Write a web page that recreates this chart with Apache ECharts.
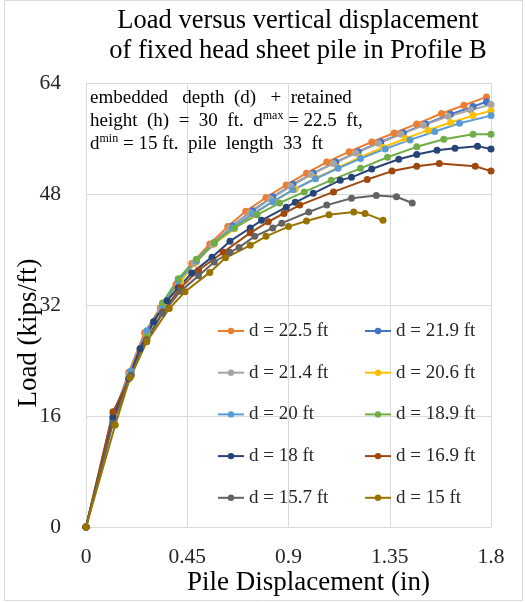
<!DOCTYPE html>
<html>
<head>
<meta charset="utf-8">
<script src="https://cdn.jsdelivr.net/npm/echarts@6/dist/echarts.min.js"></script>
<style>html,body{margin:0;padding:0;background:#fff;}#c{width:525px;height:602px;}</style>
</head>
<body>
<div id="c"></div>
<script>
// ---- data ----
const seriesNames = ['d = 22.5 ft','d = 21.9 ft','d = 21.4 ft','d = 20.6 ft','d = 20 ft','d = 18.9 ft','d = 18 ft','d = 16.9 ft','d = 15.7 ft','d = 15 ft'];

const x225 = [0,0.12,0.19,0.26,0.33,0.40,0.47,0.55,0.63,0.71,0.80,0.89,0.98,1.07,1.17,1.27,1.37,1.47,1.58,1.68,1.78];
const y225 = [0,15.8,22.3,28.0,31.6,35.0,38.0,40.8,43.3,45.5,47.5,49.3,51.0,52.6,54.1,55.5,56.8,58.1,59.6,60.8,62.0];

const x219 = [0,0.12,0.20,0.27,0.34,0.41,0.49,0.57,0.65,0.74,0.83,0.92,1.01,1.11,1.21,1.31,1.41,1.51,1.62,1.72,1.78];
const y219 = [0,15.4,22.4,27.8,31.7,35.3,38.3,41.0,43.4,45.6,47.6,49.4,51.0,52.6,54.1,55.5,56.8,58.1,59.5,60.6,61.3];

const x214 = [0,0.12,0.19,0.27,0.33,0.41,0.48,0.56,0.64,0.73,0.82,0.91,1.00,1.10,1.20,1.30,1.40,1.50,1.61,1.71,1.80];
const y214 = [0,15.6,22.0,27.9,31.4,35.1,38.0,40.7,43.1,45.3,47.3,49.1,50.8,52.4,53.9,55.3,56.6,57.9,59.2,60.1,60.9];

const x206 = [0,0.12,0.20,0.27,0.34,0.42,0.49,0.57,0.66,0.74,0.83,0.93,1.02,1.12,1.22,1.32,1.42,1.52,1.62,1.72,1.80];
const y206 = [0,15.9,22.2,27.6,31.9,35.4,38.2,40.8,43.0,45.0,46.9,48.7,50.3,51.8,53.3,54.7,56.0,57.2,58.3,59.3,60.0];

const x200 = [0,0.12,0.20,0.27,0.34,0.41,0.49,0.57,0.65,0.74,0.83,0.92,1.02,1.12,1.22,1.33,1.44,1.55,1.66,1.80];
const y200 = [0,16.3,22.5,28.3,31.8,35.5,38.3,40.9,43.1,45.1,46.9,48.6,50.2,51.7,53.1,54.5,55.8,57.0,58.2,59.3];

const x189 = [0,0.12,0.20,0.27,0.34,0.41,0.49,0.57,0.66,0.76,0.86,0.97,1.09,1.22,1.34,1.47,1.59,1.72,1.80];
const y189 = [0,15.2,21.9,27.4,32.3,35.8,38.6,41.0,43.1,45.0,46.7,48.3,50.0,51.7,53.3,54.8,55.9,56.6,56.6];

const x180 = [0,0.12,0.19,0.24,0.30,0.36,0.41,0.47,0.56,0.64,0.73,0.78,0.89,0.93,1.01,1.13,1.18,1.27,1.39,1.47,1.56,1.64,1.74,1.80];
const y180 = [0,15.8,21.4,25.7,29.6,32.6,34.5,36.6,38.9,41.2,43.1,44.2,46.1,46.8,48.1,50.0,50.4,51.6,53.0,53.7,54.3,54.6,54.9,54.5];

const x169 = [0,0.12,0.20,0.27,0.34,0.42,0.50,0.61,0.73,0.81,0.88,0.95,1.10,1.25,1.36,1.47,1.57,1.73,1.80];
const y169 = [0,16.6,21.8,27.0,31.0,34.5,37.0,39.6,42.4,44.0,45.2,46.4,48.3,50.1,51.3,52.0,52.4,52.0,51.3];

const x157 = [0,0.12,0.20,0.27,0.34,0.42,0.50,0.57,0.64,0.68,0.75,0.83,0.87,0.99,1.07,1.18,1.29,1.38,1.45];
const y157 = [0,15.0,21.9,26.9,30.8,34.0,36.2,38.2,39.6,40.3,41.9,43.1,43.8,45.4,46.4,47.4,47.8,47.6,46.7];

const x150 = [0,0.13,0.195,0.27,0.37,0.44,0.55,0.62,0.73,0.80,0.90,0.98,1.08,1.19,1.24,1.32];
const y150 = [0,14.7,21.5,26.7,31.5,33.9,36.7,38.8,40.6,41.9,43.3,44.1,45.0,45.4,45.2,44.2];

const xTicks = [0, 0.45, 0.9, 1.35, 1.8];
const yTicks = [0, 16, 32, 48, 64];

// ---- chart ----
const xs = [x225,x219,x214,x206,x200,x189,x180,x169,x157,x150];
const ys = [y225,y219,y214,y206,y200,y189,y180,y169,y157,y150];
const colors = ['#ED7D31','#4472C4','#A5A5A5','#FFC000','#5B9BD5','#70AD47','#264478','#9E480E','#636363','#997300'];
const FONT = '"Liberation Serif", "Times New Roman", serif';

const series = seriesNames.map((n, i) => ({
  name: n,
  type: 'line',
  data: xs[i].map((x, k) => [x, ys[i][k]]),
  symbol: 'circle',
  symbolSize: 7,
  lineStyle: { width: 2, color: colors[i] },
  itemStyle: { color: colors[i] },
  emphasis: { disabled: true },
  animation: false
}));

const legendBase = {
  orient: 'vertical',
  itemWidth: 26,
  itemHeight: 8,
  itemGap: 21.7,
  padding: 0,
  textStyle: { fontFamily: FONT, fontSize: 19, lineHeight: 20, color: '#262626' }
};

const chart = echarts.init(document.getElementById('c'), null, { renderer: 'canvas' });
chart.setOption({
  backgroundColor: '#fff',
  animation: false,
  color: colors,
  title: {
    text: 'Load versus vertical displacement\nof fixed head sheet pile in Profile B',
    left: 298,
    top: 6,
    textAlign: 'center',
    padding: 0,
    textStyle: { fontFamily: FONT, fontSize: 26.5, lineHeight: 30, fontWeight: 'normal', color: '#000' }
  },
  grid: { left: 86, right: 34, top: 83, bottom: 75, containLabel: false, outerBoundsMode: 'none' },
  xAxis: {
    type: 'value',
    min: xTicks[0], max: xTicks[xTicks.length - 1], interval: 0.45,
    name: 'Pile Displacement (in)',
    nameLocation: 'middle',
    nameGap: 42,
    nameMoveOverlap: false,
    nameTextStyle: { fontFamily: FONT, fontSize: 27, color: '#000', padding: [0, 0, 0, 40], verticalAlign: 'top' },
    axisLine: { show: true, lineStyle: { color: '#d9d9d9', width: 1 } },
    axisTick: { show: false },
    axisLabel: { fontFamily: FONT, fontSize: 21.5, color: '#262626', margin: 19 },
    splitLine: { show: true, lineStyle: { color: '#d9d9d9', width: 1 } }
  },
  yAxis: {
    type: 'value',
    min: yTicks[0], max: yTicks[yTicks.length - 1], interval: 16,
    name: 'Load (kips/ft)',
    nameLocation: 'middle',
    nameGap: 44,
    nameMoveOverlap: false,
    nameTextStyle: { fontFamily: FONT, fontSize: 27, color: '#000', padding: [0, 56, 0, 0] },
    axisLine: { show: false },
    axisTick: { show: false },
    axisLabel: { fontFamily: FONT, fontSize: 21.5, color: '#262626', margin: 25 },
    splitLine: { show: true, lineStyle: { color: '#d9d9d9', width: 1 } }
  },
  legend: [
    Object.assign({}, legendBase, { left: 217, top: 321, data: [seriesNames[0], seriesNames[2], seriesNames[4], seriesNames[6], seriesNames[8]] }),
    Object.assign({}, legendBase, { left: 364, top: 321, data: [seriesNames[1], seriesNames[3], seriesNames[5], seriesNames[7], seriesNames[9]] })
  ],
  graphic: [
    {
      type: 'rect', silent: true, z: -10,
      shape: { x: 4.5, y: 0.5, width: 518, height: 600 },
      style: { fill: 'none', stroke: '#d9d9d9', lineWidth: 1 }
    },
    {
      type: 'text', left: 90, top: 87, silent: true, z: 10,
      style: {
        text: 'embedded   depth  (d)   +  retained\nheight  (h)  =  30  ft.  d{sup|max} = 22.5  ft,\nd{sup|min} = 15 ft.  pile  length  33  ft',
        fontFamily: FONT, fontSize: 19, lineHeight: 23, fill: '#000',
        rich: {
          sup: { fontFamily: FONT, fontSize: 12, verticalAlign: 'top', lineHeight: 23, fill: '#000' }
        }
      }
    }
  ],
  series: series
});
</script>
</body>
</html>
